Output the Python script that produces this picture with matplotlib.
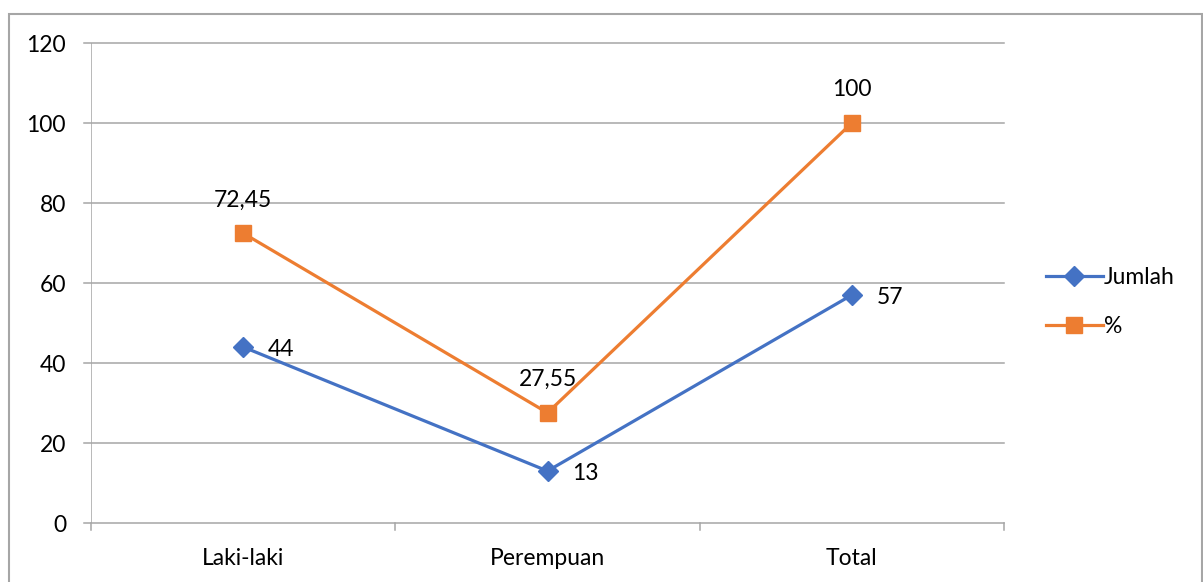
import matplotlib.pyplot as plt
from matplotlib.lines import Line2D
from matplotlib.patches import Rectangle

categories = ["Laki-laki", "Perempuan", "Total"]
jumlah = [44, 13, 57]
persen = [72.45, 27.55, 100]
persen_labels = ["72,45", "27,55", "100"]
y_ticks = [0, 20, 40, 60, 80, 100, 120]

W, H = 1203, 582
fig = plt.figure(figsize=(W / 100, H / 100), dpi=100)
plt.rcParams['font.family'] = ['Lato', 'DejaVu Sans']
FS = 16.5

# outer chart frame
fig.patches.append(Rectangle((9 / W, -0.01), (1202 - 9) / W, (H - 14) / H + 0.01,
                             transform=fig.transFigure, fill=False,
                             edgecolor='#A6A6A6', linewidth=1.5))

left, right, top, bottom = 91, 1004, 43, 523
ax = fig.add_axes([left / W, 1 - bottom / H, (right - left) / W, (bottom - top) / H])

x = list(range(len(categories)))
blue = '#4472C4'
orange = '#ED7D31'
grid = '#A6A6A6'

ax.plot(x, jumlah, color=blue, linewidth=2.3, marker='D', markersize=10,
        markerfacecolor=blue, markeredgecolor=blue, zorder=3, label='Jumlah')
ax.plot(x, persen, color=orange, linewidth=2.3, marker='s', markersize=12,
        markerfacecolor=orange, markeredgecolor=orange, zorder=3, label='%')

ax.set_xlim(-0.5, len(categories) - 0.5)
ax.set_ylim(0, 120)
ax.set_yticks(y_ticks)
ax.set_yticklabels([str(v) for v in y_ticks])
ax.set_xticks(x)
ax.set_xticklabels(categories)
ax.tick_params(axis='both', labelsize=FS, colors='#000000', length=0)
ax.tick_params(axis='x', pad=18)
ax.tick_params(axis='y', pad=18)

for v in y_ticks:
    ax.axhline(v, color=grid, linewidth=1.1, zorder=1, xmin=-7 / (right - left), clip_on=False)
for b in [-0.5, 0.5, 1.5, 2.5]:
    ax.plot([b, b], [0, -1.8], color=grid, linewidth=1.1, clip_on=False, zorder=1)
ax.axvline(-0.5, color=grid, linewidth=1.1, zorder=1)

for s in ax.spines.values():
    s.set_visible(False)

for xi, v, lab in zip(x, persen, persen_labels):
    ax.annotate(lab, (xi, v), xytext=(0, 24), textcoords='offset points',
                ha='center', va='center', fontsize=FS)
for xi, v in zip(x, jumlah):
    ax.annotate(str(v), (xi, v), xytext=(18, -2), textcoords='offset points',
                ha='left', va='center', fontsize=FS)

handles = [
    Line2D([0], [0], color=blue, linewidth=2.3, marker='D', markersize=10),
    Line2D([0], [0], color=orange, linewidth=2.3, marker='s', markersize=12),
]
fig.legend(handles, ['Jumlah', '%'], loc='center left',
           bbox_to_anchor=(1025 / W, 1 - 302 / H), frameon=False, fontsize=FS,
           handlelength=2.5, handletextpad=0.05, labelspacing=1.25)

fig.savefig('out.png', dpi=100)
